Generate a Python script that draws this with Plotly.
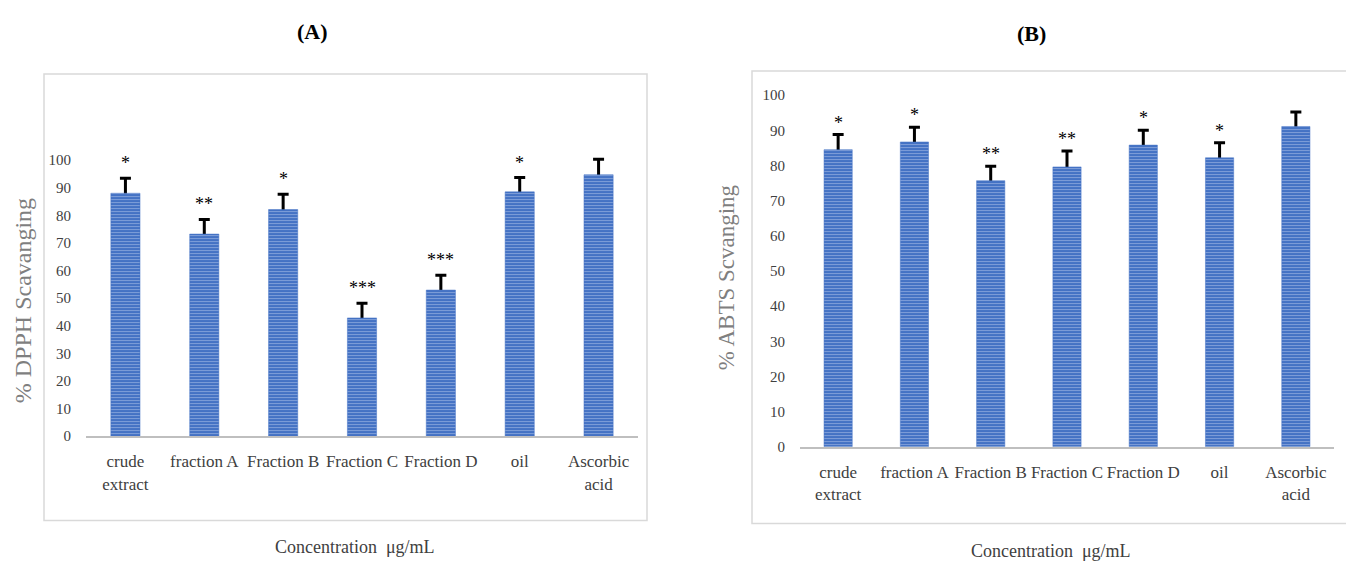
import plotly.graph_objects as go

# ---------------- data ----------------
categories = ["crude<br>extract", "fraction A", "Fraction B", "Fraction C",
              "Fraction D", "oil", "Ascorbic<br>acid"]

dpph_vals = [88.0, 73.2, 82.1, 42.8, 52.9, 88.5, 94.7]
dpph_err = [5.4, 5.3, 5.5, 5.3, 5.4, 5.2, 5.6]
dpph_sig = ["*", "**", "*", "***", "***", "*", ""]

abts_vals = [84.5, 86.7, 75.7, 79.6, 85.8, 82.2, 91.1]
abts_err = [4.3, 4.2, 4.1, 4.5, 4.2, 4.3, 4.1]
abts_sig = ["*", "*", "**", "**", "*", "*", ""]

y_ticks = [0, 10, 20, 30, 40, 50, 60, 70, 80, 90, 100]

# ---------------- figure ----------------
W, H = 1346, 562
H_EFF = 553.6   # effective vertical extent observed in the rendered page
SERIF = "Liberation Serif, Times New Roman, serif"
BAR = "#4472C4"
TXT = "#404040"


def px(x):
    return x / W


def py(y):
    return 1 - y / H_EFF


fig = go.Figure()


def add_bars(vals, errs, xa, ya):
    # hidden carrier for the error bars (drawn first so the bar covers the stem base)
    fig.add_trace(go.Bar(
        x=categories, y=vals, xaxis=xa, yaxis=ya, width=0.37,
        marker=dict(color="rgba(0,0,0,0)", line=dict(width=0)),
        error_y=dict(type="data", symmetric=False, array=errs,
                     arrayminus=[6] * len(errs), color="black",
                     thickness=3, width=5.5),
        showlegend=False, hoverinfo="skip",
    ))
    fig.add_trace(go.Bar(
        x=categories, y=vals, xaxis=xa, yaxis=ya, width=0.37,
        marker=dict(color=BAR, line=dict(color=BAR, width=0.5),
                    pattern=dict(shape="-", size=3, solidity=0.3,
                                 fgcolor="#c5d4f0", bgcolor=BAR,
                                 fillmode="overlay")),
        showlegend=False, hoverinfo="skip",
    ))


add_bars(dpph_vals, dpph_err, "x", "y")
add_bars(abts_vals, abts_err, "x2", "y2")

axis_common = dict(showgrid=False, zeroline=False)
fig.update_layout(
    width=W, height=H, margin=dict(l=0, r=0, t=0, b=0),
    paper_bgcolor="white", plot_bgcolor="white", showlegend=False,
    barmode="overlay",
    xaxis=dict(domain=[px(86), px(638)], anchor="y", showline=True,
               linecolor="#bfbfbf", linewidth=2, ticks="",
               tickfont=dict(family=SERIF, size=17, color=TXT),
               ticklabelstandoff=9, tickangle=0, **axis_common),
    yaxis=dict(domain=[py(435.7), py(90)], range=[0, 125.4], anchor="x",
               tickvals=y_ticks, showline=False, ticks="",
               tickfont=dict(family=SERIF, size=15, color=TXT),
               ticklabelstandoff=14, **axis_common),
    xaxis2=dict(domain=[px(800), px(1334)], anchor="y2", showline=True,
                linecolor="#bfbfbf", linewidth=2, ticks="",
                tickfont=dict(family=SERIF, size=17, color=TXT),
                ticklabelstandoff=9, tickangle=0, **axis_common),
    yaxis2=dict(domain=[py(446.5), py(80)], range=[0, 104.3], anchor="x2",
                tickvals=y_ticks, showline=False, ticks="",
                tickfont=dict(family=SERIF, size=15, color=TXT),
                ticklabelstandoff=14, **axis_common),
)

# frames around each chart
fig.add_shape(type="rect", xref="paper", yref="paper",
              x0=px(44), x1=px(647), y0=py(520), y1=py(74),
              line=dict(color="#d9d9d9", width=1.5), layer="below")
fig.add_shape(type="rect", xref="paper", yref="paper",
              x0=px(752), x1=px(1352), y0=py(523), y1=py(71),
              line=dict(color="#d9d9d9", width=1.5), layer="below")

# significance stars
for c, v, e, s in zip(categories, dpph_vals, dpph_err, dpph_sig):
    if s:
        fig.add_annotation(x=c, y=v + e, xref="x", yref="y", text=s,
                           showarrow=False, xanchor="center", yanchor="bottom",
                           yshift=3,
                           font=dict(family=SERIF, size=18, color="black"))
for c, v, e, s in zip(categories, abts_vals, abts_err, abts_sig):
    if s:
        fig.add_annotation(x=c, y=v + e, xref="x2", yref="y2", text=s,
                           showarrow=False, xanchor="center", yanchor="bottom",
                           yshift=0,
                           font=dict(family=SERIF, size=18, color="black"))


def label(x, y, text, size, color, angle=0, bold=False):
    fig.add_annotation(x=px(x), y=py(y), xref="paper", yref="paper",
                       text=f"<b>{text}</b>" if bold else text,
                       textangle=angle, showarrow=False,
                       xanchor="center", yanchor="middle",
                       font=dict(family=SERIF, size=size, color=color))


# titles
label(312.5, 31, "(A)", 22, "black", bold=True)
label(1031.5, 33, "(B)", 22, "black", bold=True)

# axis titles
label(23, 301, "% DPPH Scavanging", 24, "#7f7f7f", angle=-90)
label(726, 277, "% ABTS Scvanging", 23, "#7f7f7f", angle=-90)
label(354.5, 547, "Concentration  \u03bcg/mL", 18, TXT)
label(1051, 551, "Concentration  \u03bcg/mL", 18, TXT)

post = (
    "document.documentElement.style.margin='0';"
    "document.documentElement.style.padding='0';"
    "document.documentElement.style.overflow='hidden';"
    "document.body.style.margin='0';"
    "document.body.style.padding='0';"
    "document.body.style.overflow='hidden';"
)

fig.write_html("out.html", config={"displayModeBar": False},
               post_script=post)
